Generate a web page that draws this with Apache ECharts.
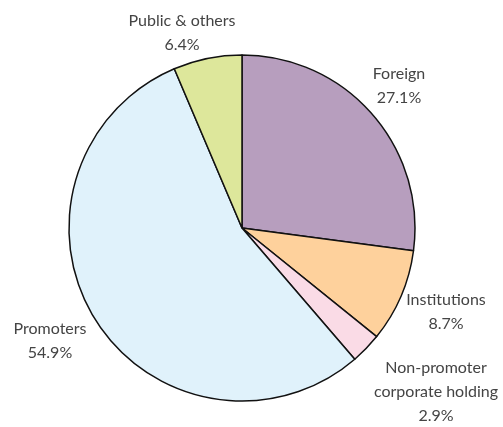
<!DOCTYPE html>
<html>
<head>
<meta charset="utf-8">
<script src="https://cdn.jsdelivr.net/npm/echarts@6/dist/echarts.min.js"></script>
<style>
html, body { margin: 0; padding: 0; background: #fff; }
#chart { width: 503px; height: 427px; }
</style>
</head>
<body>
<div id="chart"></div>
<script>
// shareholding pattern, clockwise from 12 o'clock
var names = ['Foreign', 'Institutions', 'Non-promoter\ncorporate holding', 'Promoters', 'Public & others'];
var shares = [27.1, 8.7, 2.9, 54.9, 6.4];
var colors = ['#B79EBE', '#FED19C', '#FADBE6', '#E0F2FB', '#DDE79B'];
// label centres (px)
var labelPos = [[399, 86], [446, 312], [436, 392], [50, 341], [182, 33]];

var chart = echarts.init(document.getElementById('chart'));

var data = [];
for (var i = 0; i < names.length; i++) {
	data.push({
		name: names[i],
		value: shares[i],
		itemStyle: { color: colors[i] }
	});
}

chart.setOption({
	animation: false,
	series: [{
		type: 'pie',
		center: [242, 228],
		radius: 173,
		startAngle: 90,
		clockwise: true,
		data: data,
		itemStyle: {
			borderColor: '#111',
			borderWidth: 1.5
		},
		emphasis: { disabled: true },
		label: {
			show: true,
			position: 'outside',
			fontFamily: 'Lato',
			fontSize: 16,
			color: '#444',
			lineHeight: 24,
			align: 'center',
			overflow: 'none',
			formatter: function(p) {
				return p.name + '\n' + p.value.toFixed(1) + '%';
			}
		},
		labelLine: { show: false },
		labelLayout: function(p) {
			var pos = labelPos[p.dataIndex];
			return {
				x: pos[0],
				y: pos[1],
				align: 'center',
				verticalAlign: 'middle'
			};
		}
	}]
});
</script>
</body>
</html>
